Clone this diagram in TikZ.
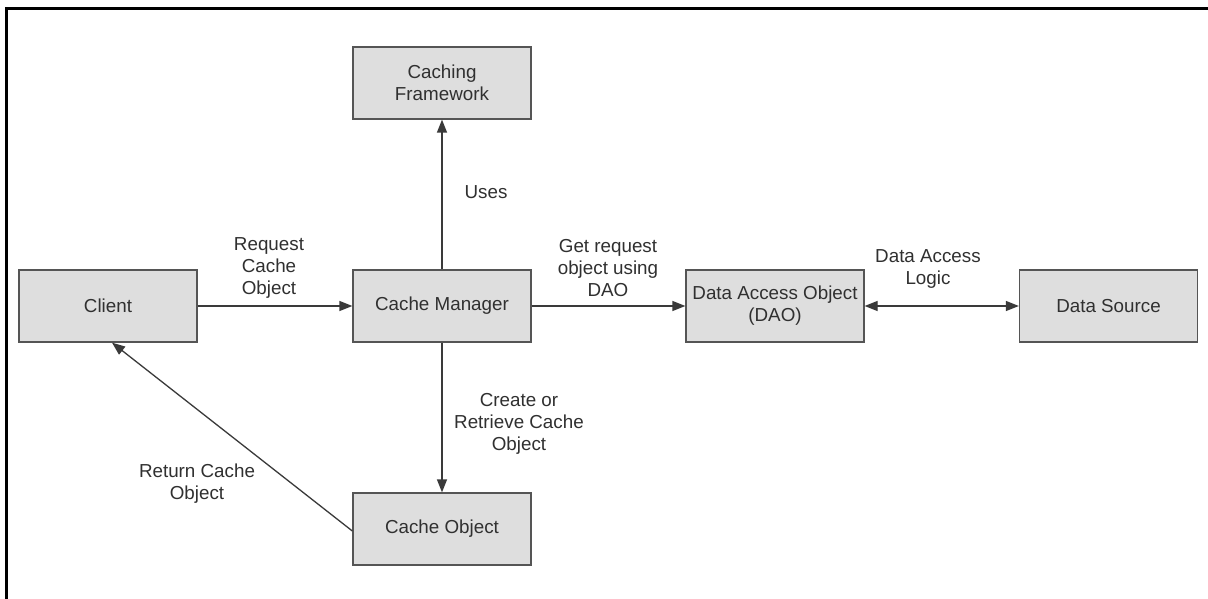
\documentclass[tikz,border=0pt]{standalone}
\usepackage{fontspec}
\setmainfont{Liberation Sans}
\usetikzlibrary{arrows.meta}
\definecolor{boxfill}{HTML}{DEDEDE}
\definecolor{boxline}{HTML}{555555}
\definecolor{txt}{HTML}{303030}
\definecolor{arrowc}{HTML}{3A3A3A}
\begin{document}
\begin{tikzpicture}[x=1pt,y=-1pt,
  block/.style={draw=boxline,line width=1.3pt,fill=boxfill,minimum width=178pt,minimum height=72pt,inner sep=0pt,align=center,text=txt,font=\fontsize{18.8}{22}\selectfont},
  lbl/.style={align=center,text=txt,inner sep=0pt,font=\fontsize{18.8}{22}\selectfont},
  conn/.style={draw=arrowc,line width=1.3pt,-{Triangle[length=13pt,width=10pt]}},
  both/.style={draw=arrowc,line width=1.3pt,{Triangle[length=13pt,width=10pt]}-{Triangle[length=13pt,width=10pt]}}]
\useasboundingbox (0,0) rectangle (1208,599);
\fill[white] (0,0) rectangle (1208,599);
% frame (top and left edges)
\draw[line width=3pt] (6,599) -- (6,8.5) -- (1208,8.5);
% nodes
\node[block] (client) at (108,306) {Client};
\node[block] (cm) at (442,306) {Cache Manager};
\node[block] (cf) at (442,83) {Caching\\Framework};
\node[block] (dao) at (775,306) {Data Access Object\\(DAO)};
\node[block] (ds) at (1108.5,306) {Data Source};
\node[block] (co) at (442,529) {Cache Object};
% connectors
\draw[conn] (client.east) -- (cm.west);
\draw[conn] (cm.north) -- (cf.south);
\draw[conn] (cm.east) -- (dao.west);
\draw[both] (dao.east) -- (ds.west);
\draw[conn] (cm.south) -- (co.north);
\draw[conn] ([yshift=-2pt]co.west) -- ([xshift=4pt]client.south);
% labels
\node[lbl] (l1) at (269,268) {Request\\Cache\\Object};
\node[lbl] (l2) at (486,192) {Uses};
\node[lbl] (l3) at (608,268) {Get request\\object using\\DAO};
\node[lbl] (l4) at (928,269) {Data Access\\Logic};
\node[lbl] (l5) at (519,424) {Create or\\Retrieve Cache\\Object};
\node[lbl] (l6) at (197,484) {Return Cache\\Object};
\end{tikzpicture}
\end{document}
